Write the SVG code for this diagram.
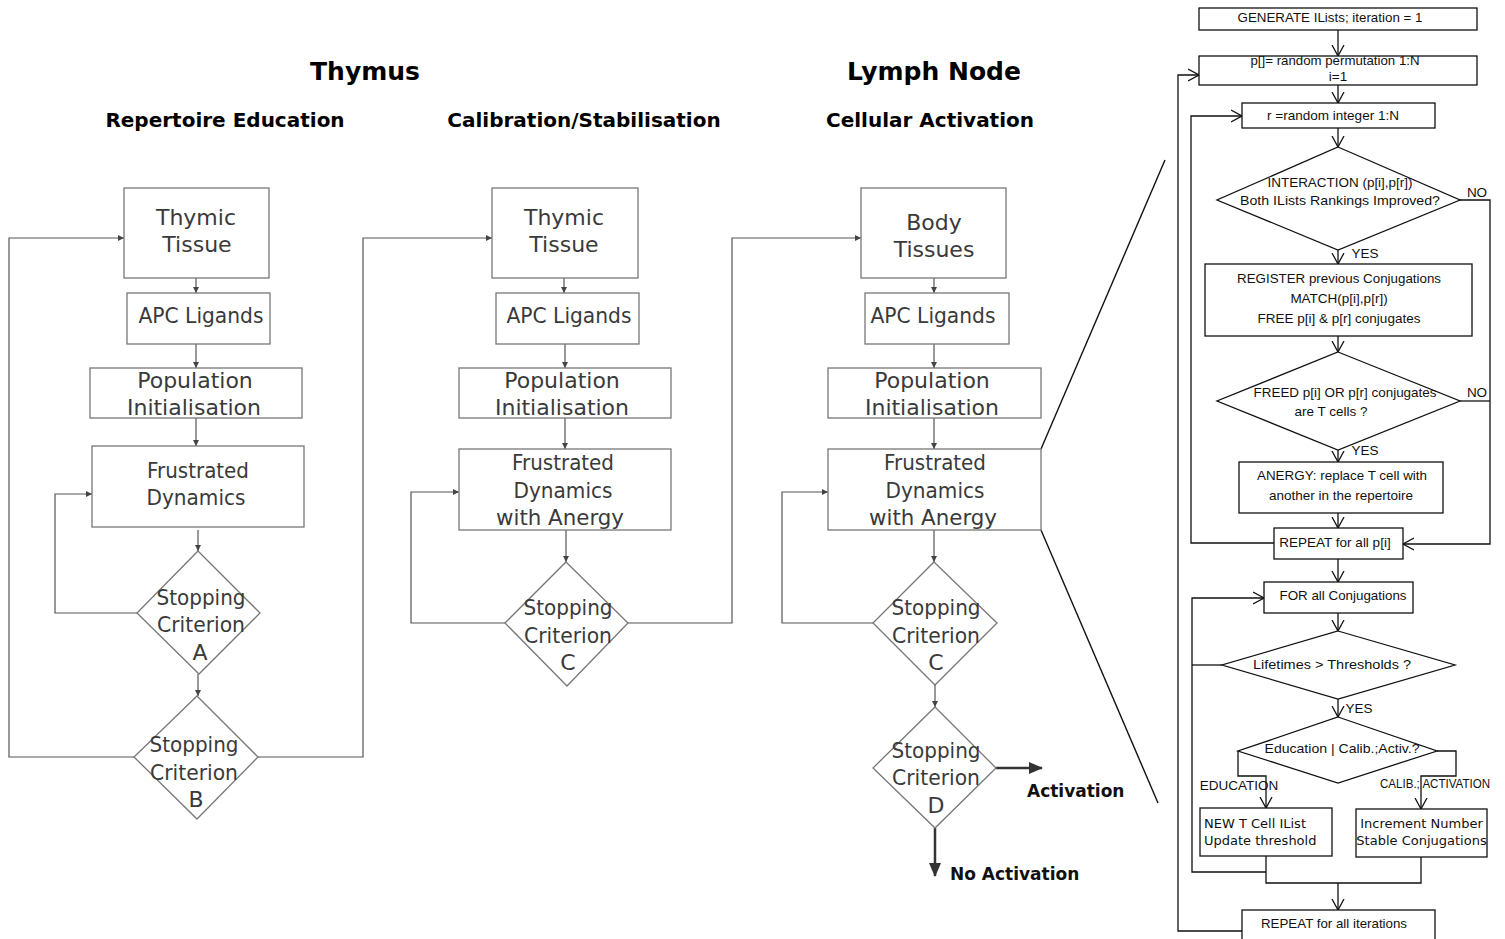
<svg xmlns="http://www.w3.org/2000/svg" width="1505" height="939" viewBox="0 0 1505 939">
<defs>
<style>
.bg{fill:#fff}
.nd{fill:#fff;stroke:#777;stroke-width:1.3}
.nt{font-family:"DejaVu Sans",sans-serif;font-size:22px;fill:#3a3a3a;text-anchor:middle}
.hd{font-family:"DejaVu Sans",sans-serif;font-weight:bold;fill:#000;text-anchor:middle}
.cl{fill:none;stroke:#555;stroke-width:1.2}
.bl{fill:none;stroke:#333;stroke-width:2.5}
.zl{fill:none;stroke:#111;stroke-width:1.4}
.rn{fill:#fff;stroke:#111;stroke-width:1.3}
.rt{font-family:"Liberation Sans",Arial,sans-serif;font-size:13.5px;fill:#111;text-anchor:middle}
.rd{font-family:"DejaVu Sans",sans-serif;font-size:13px;fill:#111}
.rc{fill:none;stroke:#111;stroke-width:1.3}
.lb{font-family:"DejaVu Sans",sans-serif;font-weight:bold;font-size:17px;fill:#111}
</style>
<marker id="sa" markerWidth="6" markerHeight="6" refX="6" refY="3" orient="auto" markerUnits="userSpaceOnUse">
<path d="M0,0 L6,3 L0,6 z" fill="#444"/>
</marker>
<marker id="ba" markerWidth="14" markerHeight="14" refX="13" refY="7" orient="auto" markerUnits="userSpaceOnUse">
<path d="M0,1 L14,7 L0,13 z" fill="#333"/>
</marker>
<marker id="va" markerWidth="12" markerHeight="14" refX="11" refY="7" orient="auto" markerUnits="userSpaceOnUse">
<path d="M0,1 L11,7 L0,13" fill="none" stroke="#111" stroke-width="1.3"/>
</marker>
</defs>
<rect class="bg" x="0" y="0" width="1505" height="939"/>

<g id="headings">
<text class="hd" x="365" y="80" font-size="25">Thymus</text>
<text class="hd" x="934" y="80" font-size="25">Lymph Node</text>
<text class="hd" x="225" y="127" font-size="20">Repertoire Education</text>
<text class="hd" x="584" y="127" font-size="20">Calibration/Stabilisation</text>
<text class="hd" x="930" y="127" font-size="20">Cellular Activation</text>
</g>

<g id="connectors">
<path class="cl" d="M196,278 V293" marker-end="url(#sa)"/>
<path class="cl" d="M196,344 V368" marker-end="url(#sa)"/>
<path class="cl" d="M196,418 V446" marker-end="url(#sa)"/>
<path class="cl" d="M198,530 V551" marker-end="url(#sa)"/>
<path class="cl" d="M137,613 H55 V494 H92" marker-end="url(#sa)"/>
<path class="cl" d="M198,674 V696" marker-end="url(#sa)"/>
<path class="cl" d="M134,757 H9 V238 H124" marker-end="url(#sa)"/>
<path class="cl" d="M258,757 H363 V238 H492" marker-end="url(#sa)"/>
<path class="cl" d="M564,278 V293" marker-end="url(#sa)"/>
<path class="cl" d="M565,344 V368" marker-end="url(#sa)"/>
<path class="cl" d="M565,418 V449" marker-end="url(#sa)"/>
<path class="cl" d="M566,530 V562" marker-end="url(#sa)"/>
<path class="cl" d="M505,623 H411 V492 H459" marker-end="url(#sa)"/>
<path class="cl" d="M628,623 H732 V238 H861" marker-end="url(#sa)"/>
<path class="cl" d="M934,278 V293" marker-end="url(#sa)"/>
<path class="cl" d="M934,344 V368" marker-end="url(#sa)"/>
<path class="cl" d="M934,418 V449" marker-end="url(#sa)"/>
<path class="cl" d="M934,530 V562" marker-end="url(#sa)"/>
<path class="cl" d="M873,623 H782 V492 H828" marker-end="url(#sa)"/>
<path class="cl" d="M935,685 V707" marker-end="url(#sa)"/>
<path class="bl" d="M996,768 H1042" marker-end="url(#ba)"/>
<path class="bl" d="M935,828 V876" marker-end="url(#ba)"/>
<path class="zl" d="M1041,449 L1165,160"/>
<path class="zl" d="M1041,530 L1158,803"/>
<path class="rc" d="M1338,30 V56" marker-end="url(#va)"/>
<path class="rc" d="M1338,85 V103" marker-end="url(#va)"/>
<path class="rc" d="M1338,128 V147" marker-end="url(#va)"/>
<path class="rc" d="M1338,250 V264" marker-end="url(#va)"/>
<path class="rc" d="M1338,336 V352" marker-end="url(#va)"/>
<path class="rc" d="M1338,450 V462" marker-end="url(#va)"/>
<path class="rc" d="M1338,513 V528" marker-end="url(#va)"/>
<path class="rc" d="M1338,559 V582" marker-end="url(#va)"/>
<path class="rc" d="M1338,613 V631" marker-end="url(#va)"/>
<path class="rc" d="M1338,699 V717" marker-end="url(#va)"/>
<path class="rc" d="M1460,200 H1490 V544 H1403" marker-end="url(#va)"/>
<path class="rc" d="M1460,401 H1490"/>
<path class="rc" d="M1274,543 H1191 V116 H1242" marker-end="url(#va)"/>
<path class="rc" d="M1222,665 H1192"/>
<path class="rc" d="M1266,872 H1192 V598 H1264" marker-end="url(#va)"/>
<path class="rc" d="M1238,751 V776 H1266 V808" marker-end="url(#va)"/>
<path class="rc" d="M1437,751 H1456 V776 H1421 V809" marker-end="url(#va)"/>
<path class="rc" d="M1266,856 V883 H1421 V857"/>
<path class="rc" d="M1338,883 V910" marker-end="url(#va)"/>
<path class="rc" d="M1242,931 H1178 V75 H1199" marker-end="url(#va)"/>
</g>

<g id="n-thymic1"><rect class="nd" x="124" y="188" width="145" height="90"/><text class="nt" x="196" y="225">Thymic</text><text class="nt" x="197" y="252">Tissue</text></g>
<g id="n-apc1"><rect class="nd" x="127" y="293" width="143" height="51"/><text class="nt" x="201" y="323" textLength="125" lengthAdjust="spacingAndGlyphs">APC Ligands</text></g>
<g id="n-pop1"><rect class="nd" x="90" y="368" width="212" height="50"/><text class="nt" x="195" y="388">Population</text><text class="nt" x="194" y="415">Initialisation</text></g>
<g id="n-fd1"><rect class="nd" x="92" y="446" width="212" height="81"/><text class="nt" x="198" y="478" textLength="102" lengthAdjust="spacingAndGlyphs">Frustrated</text><text class="nt" x="196" y="505" textLength="99" lengthAdjust="spacingAndGlyphs">Dynamics</text></g>
<g id="n-scA"><polygon class="nd" points="198,551 260,613 199,674 137,613"/><text class="nt" x="201" y="605" textLength="89" lengthAdjust="spacingAndGlyphs">Stopping</text><text class="nt" x="201" y="632" textLength="88" lengthAdjust="spacingAndGlyphs">Criterion</text><text class="nt" x="200" y="660">A</text></g>
<g id="n-scB"><polygon class="nd" points="197,696 258,757 197,819 134,757"/><text class="nt" x="194" y="752" textLength="89" lengthAdjust="spacingAndGlyphs">Stopping</text><text class="nt" x="194" y="780" textLength="88" lengthAdjust="spacingAndGlyphs">Criterion</text><text class="nt" x="196" y="807">B</text></g>

<g id="n-thymic2"><rect class="nd" x="492" y="188" width="146" height="90"/><text class="nt" x="564" y="225">Thymic</text><text class="nt" x="564" y="252">Tissue</text></g>
<g id="n-apc2"><rect class="nd" x="496" y="293" width="143" height="51"/><text class="nt" x="569" y="323" textLength="125" lengthAdjust="spacingAndGlyphs">APC Ligands</text></g>
<g id="n-pop2"><rect class="nd" x="459" y="368" width="212" height="50"/><text class="nt" x="562" y="388">Population</text><text class="nt" x="562" y="415">Initialisation</text></g>
<g id="n-fd2"><rect class="nd" x="459" y="449" width="212" height="81"/><text class="nt" x="563" y="470" textLength="102" lengthAdjust="spacingAndGlyphs">Frustrated</text><text class="nt" x="563" y="498" textLength="99" lengthAdjust="spacingAndGlyphs">Dynamics</text><text class="nt" x="560" y="525" textLength="128" lengthAdjust="spacingAndGlyphs">with Anergy</text></g>
<g id="n-scC2"><polygon class="nd" points="566,562 628,623 567,686 505,623"/><text class="nt" x="568" y="615" textLength="89" lengthAdjust="spacingAndGlyphs">Stopping</text><text class="nt" x="568" y="643" textLength="88" lengthAdjust="spacingAndGlyphs">Criterion</text><text class="nt" x="568" y="670">C</text></g>

<g id="n-body"><rect class="nd" x="861" y="188" width="145" height="90"/><text class="nt" x="934" y="230">Body</text><text class="nt" x="934" y="257">Tissues</text></g>
<g id="n-apc3"><rect class="nd" x="865" y="293" width="144" height="51"/><text class="nt" x="933" y="323" textLength="125" lengthAdjust="spacingAndGlyphs">APC Ligands</text></g>
<g id="n-pop3"><rect class="nd" x="828" y="368" width="213" height="50"/><text class="nt" x="932" y="388">Population</text><text class="nt" x="932" y="415">Initialisation</text></g>
<g id="n-fd3"><rect class="nd" x="828" y="449" width="213" height="81"/><text class="nt" x="935" y="470" textLength="102" lengthAdjust="spacingAndGlyphs">Frustrated</text><text class="nt" x="935" y="498" textLength="99" lengthAdjust="spacingAndGlyphs">Dynamics</text><text class="nt" x="933" y="525" textLength="128" lengthAdjust="spacingAndGlyphs">with Anergy</text></g>
<g id="n-scC3"><polygon class="nd" points="934,562 997,623 935,685 873,623"/><text class="nt" x="936" y="615" textLength="89" lengthAdjust="spacingAndGlyphs">Stopping</text><text class="nt" x="936" y="643" textLength="88" lengthAdjust="spacingAndGlyphs">Criterion</text><text class="nt" x="936" y="670">C</text></g>
<g id="n-scD"><polygon class="nd" points="935,707 996,768 935,828 873,768"/><text class="nt" x="936" y="758" textLength="89" lengthAdjust="spacingAndGlyphs">Stopping</text><text class="nt" x="936" y="785" textLength="88" lengthAdjust="spacingAndGlyphs">Criterion</text><text class="nt" x="936" y="813">D</text></g>
<g id="l-act"><text class="lb" x="1027" y="797">Activation</text></g>
<g id="l-noact"><text class="lb" x="950" y="880">No Activation</text></g>

<g id="r-generate"><rect class="rn" x="1199" y="8" width="278" height="22"/><text class="rt" x="1330" y="22" textLength="185" lengthAdjust="spacingAndGlyphs">GENERATE ILists; iteration = 1</text></g>
<g id="r-perm"><rect class="rn" x="1199" y="56" width="278" height="29"/><text class="rt" x="1335" y="65" textLength="169" lengthAdjust="spacingAndGlyphs">p[]= random permutation 1:N</text><text class="rt" x="1338" y="81">i=1</text></g>
<g id="r-rand"><rect class="rn" x="1242" y="103" width="193" height="25"/><text class="rt" x="1333" y="120" textLength="132" lengthAdjust="spacingAndGlyphs">r =random integer 1:N</text></g>
<g id="r-interaction"><polygon class="rn" points="1338,147 1460,200 1338,250 1217,200"/><text class="rt" x="1340" y="187" textLength="145" lengthAdjust="spacingAndGlyphs">INTERACTION (p[i],p[r])</text><text class="rt" x="1340" y="205" textLength="200" lengthAdjust="spacingAndGlyphs">Both ILists Rankings Improved?</text></g>
<g id="r-register"><rect class="rn" x="1205" y="264" width="267" height="72"/><text class="rt" x="1339" y="283" textLength="204" lengthAdjust="spacingAndGlyphs">REGISTER previous Conjugations</text><text class="rt" x="1339" y="303">MATCH(p[i],p[r])</text><text class="rt" x="1339" y="323">FREE p[i] &amp; p[r] conjugates</text></g>
<g id="r-freed"><polygon class="rn" points="1338,352 1460,401 1338,450 1217,401"/><text class="rt" x="1345" y="397" textLength="183" lengthAdjust="spacingAndGlyphs">FREED p[i] OR p[r] conjugates</text><text class="rt" x="1331" y="416">are T cells ?</text></g>
<g id="r-anergy"><rect class="rn" x="1239" y="462" width="204" height="51"/><text class="rt" x="1342" y="480" textLength="170" lengthAdjust="spacingAndGlyphs">ANERGY: replace T cell with</text><text class="rt" x="1341" y="500">another in the repertoire</text></g>
<g id="r-repeat1"><rect class="rn" x="1274" y="528" width="129" height="31"/><text class="rt" x="1335" y="547">REPEAT for all p[i]</text></g>
<g id="r-forall"><rect class="rn" x="1264" y="582" width="149" height="31"/><text class="rt" x="1343" y="600" textLength="127" lengthAdjust="spacingAndGlyphs">FOR all Conjugations</text></g>
<g id="r-lifetimes"><polygon class="rn" points="1338,631 1455,665 1338,699 1222,665"/><text class="rt" x="1332" y="669" textLength="158" lengthAdjust="spacingAndGlyphs">Lifetimes &gt; Thresholds ?</text></g>
<g id="r-educ"><polygon class="rn" points="1338,717 1437,751 1338,783 1238,751"/><text class="rt" x="1342" y="753" textLength="155" lengthAdjust="spacingAndGlyphs">Education | Calib.;Activ.?</text></g>
<g id="r-new"><rect class="rn" x="1200" y="808" width="132" height="48"/><text class="rd" x="1204" y="828">NEW T Cell IList</text><text class="rd" x="1204" y="845">Update threshold</text></g>
<g id="r-incr"><rect class="rn" x="1356" y="809" width="131" height="48"/><text class="rd" x="1421.5" y="828" text-anchor="middle">Increment Number</text><text class="rd" x="1421.5" y="845" text-anchor="middle">Stable Conjugations</text></g>
<g id="r-repeat2"><rect class="rn" x="1242" y="910" width="193" height="35"/><text class="rt" x="1334" y="928" textLength="146" lengthAdjust="spacingAndGlyphs">REPEAT for all iterations</text></g>
<g id="r-labels">
<text class="rt" x="1477" y="197">NO</text>
<text class="rt" x="1477" y="397">NO</text>
<text class="rt" x="1365" y="258">YES</text>
<text class="rt" x="1365" y="455">YES</text>
<text class="rt" x="1359" y="713">YES</text>
<text class="rt" x="1239" y="790" font-size="13">EDUCATION</text>
<text class="rt" x="1435" y="788" font-size="11" textLength="110" lengthAdjust="spacingAndGlyphs">CALIB.; ACTIVATION</text>
</g>
</svg>
